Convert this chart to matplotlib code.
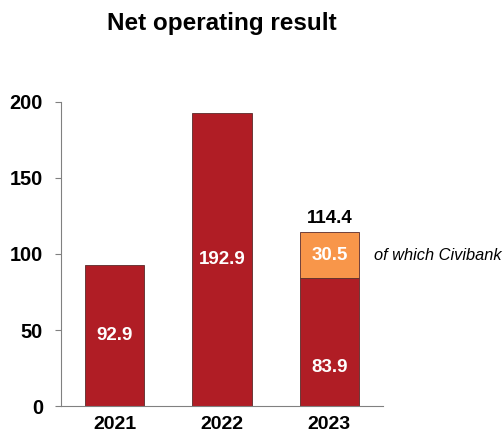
import matplotlib.pyplot as plt
import numpy as np

plt.rcParams['font.family'] = ['Liberation Sans', 'DejaVu Sans']

years = ['2021', '2022', '2023']
base = [92.9, 192.9, 83.9]      # net operating result excluding Civibank
civibank = [0, 0, 30.5]         # Civibank contribution
totals = [92.9, 192.9, 114.4]

red = '#B01D25'
orange = '#F8964A'

fig = plt.figure(figsize=(5.04, 4.34), dpi=100)
ax = fig.add_axes([0.121, 0.0645, 0.639, 0.7005])

x = np.arange(len(years))
w = 0.55
ax.bar(x, base, w, color=red, edgecolor='#5a2a2a', linewidth=0.6, zorder=2)
ax.bar(x[2], civibank[2], w, bottom=base[2], color=orange,
       edgecolor='#5a2a2a', linewidth=0.6, zorder=2)

lbl = dict(ha='center', va='center', color='white', fontsize=13.5,
           fontweight='bold')
# values inside the bars
ax.text(x[0], base[0] / 2, f'{base[0]:.1f}', **lbl)
ax.text(x[1], base[1] / 2, f'{base[1]:.1f}', **lbl)
ax.text(x[2], base[2] * 0.3, f'{base[2]:.1f}', **lbl)
ax.text(x[2], base[2] + civibank[2] / 2, f'{civibank[2]:.1f}', **lbl)

# total on top of the stacked bar
ax.text(x[2], totals[2] + 3.5, f'{totals[2]:.1f}', ha='center', va='bottom',
        color='black', fontsize=13.5, fontweight='bold')

ax.text(2.42, base[2] + civibank[2] / 2, 'of which Civibank', ha='left',
        va='center', fontsize=11.8, fontstyle='italic', clip_on=False)

ax.set_xlim(-0.5, 2.5)
ax.set_ylim(0, 200)
ax.set_yticks([0, 50, 100, 150, 200])
ax.set_xticks(x)
ax.set_xticklabels(years)

for s in ['top', 'right']:
    ax.spines[s].set_visible(False)
for s in ['left', 'bottom']:
    ax.spines[s].set_color('#808080')
    ax.spines[s].set_linewidth(0.8)

ax.tick_params(axis='y', length=4, color='#808080', labelsize=14.4, pad=9)
ax.tick_params(axis='x', length=0, labelsize=14, pad=7)
for lab in ax.get_xticklabels() + ax.get_yticklabels():
    lab.set_fontweight('bold')

fig.text(0.44, 0.945, 'Net operating result', ha='center', va='center',
         fontsize=17.5, fontweight='bold')

fig.savefig('out.png', dpi=100)
